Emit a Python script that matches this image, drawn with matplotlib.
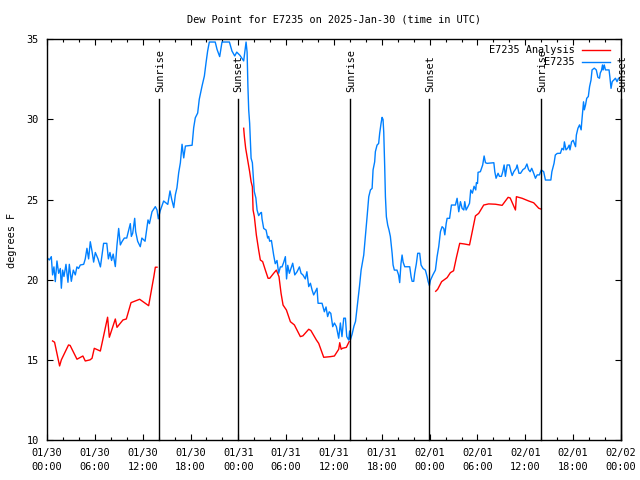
import numpy as np
import matplotlib
matplotlib.use("Agg")
import matplotlib.pyplot as plt

# ---- data (hours since 2025-01-30 00:00 UTC) ----
obs_hours = [0.0, 0.29, 0.54, 0.7, 0.87, 1.04, 1.25, 1.46, 1.67, 1.8, 1.96, 2.13, 2.38, 2.63, 2.8, 3.05, 3.3, 3.55, 3.75, 3.96,
             4.18, 4.6, 4.8, 5.01, 5.22, 5.43, 5.64, 5.85, 6.06, 6.4, 6.7, 7.1, 7.5, 7.7, 7.9, 8.1, 8.3, 8.57, 8.78, 8.99,
             9.2, 9.4, 9.7, 10.0, 10.45, 10.58, 10.75, 11.0, 11.12, 11.37, 11.7, 11.9, 12.3, 12.67, 12.85, 13.17, 13.59, 13.8, 13.96, 14.2,
             14.63, 14.9, 15.15, 15.43, 15.65, 15.9, 16.1, 16.3, 16.52, 16.73, 16.94, 17.15, 17.36, 18.2, 18.4, 18.6, 18.9, 19.1, 19.45, 19.74,
             19.95, 20.15, 20.36, 21.1, 21.33, 21.66, 21.95, 22.88, 23.2, 23.55, 23.8, 24.2, 24.67, 24.97, 25.1, 25.2, 25.3, 25.42, 25.6, 25.76,
             25.85, 26.0, 26.2, 26.35, 26.55, 26.76, 26.9, 26.97, 27.18, 27.48, 27.68, 27.8, 27.93, 28.15, 28.43, 28.63, 28.85, 29.06, 29.27, 29.48,
             29.7, 29.9, 30.05, 30.2, 30.4, 30.67, 30.82, 31.08, 31.37, 31.66, 31.87, 32.1, 32.4, 32.6, 32.83, 33.04, 33.25, 33.45, 33.67, 33.87,
             34.0, 34.5, 34.79, 35.0, 35.2, 35.4, 35.6, 35.84, 36.05, 36.3, 36.59, 36.8, 37.0, 37.22, 37.43, 37.6, 37.84, 37.96, 38.05, 38.27,
             38.5, 38.7, 38.97, 39.2, 39.4, 39.57, 39.73, 39.94, 40.15, 40.36, 40.57, 40.78, 40.9, 41.1, 41.19, 41.4, 41.6, 41.73, 41.9, 42.03,
             42.15, 42.24, 42.36, 42.45, 42.57, 42.74, 42.9, 43.07, 43.29, 43.41, 43.57, 43.9, 44.1, 44.24, 44.4, 44.54, 44.67, 44.87, 45.5, 45.67,
             45.8, 46.0, 46.12, 46.33, 46.5, 46.75, 46.92, 47.17, 47.46, 47.68, 47.8, 47.97, 48.1, 48.4, 48.72, 48.93, 49.14, 49.35, 49.56, 49.77,
             49.9, 50.07, 50.19, 50.5, 50.73, 51.23, 51.44, 51.65, 51.86, 52.07, 52.28, 52.4, 52.57, 52.8, 53.0, 53.15, 53.36, 53.57, 53.78, 53.86,
             54.0, 54.07, 54.36, 54.65, 54.83, 55.0, 55.2, 56.05, 56.17, 56.33, 56.58, 56.75, 57.0, 57.17, 57.34, 57.5, 57.72, 58.0, 58.2, 58.35,
             58.55, 58.85, 58.97, 59.2, 59.4, 59.7, 59.95, 60.2, 60.4, 60.6, 60.8, 61.05, 61.27, 61.48, 61.77, 62.0, 62.3, 62.52, 63.2, 63.33,
             63.6, 63.76, 64.0, 64.4, 64.6, 64.8, 64.9, 65.1, 65.3, 65.5, 65.6, 65.8, 66.0, 66.3, 66.4, 66.6, 66.8, 67.0, 67.08, 67.3,
             67.4, 67.55, 67.7, 67.9, 68.06, 68.24, 68.37, 68.65, 68.9, 69.1, 69.3, 69.4, 69.55, 69.68, 69.76, 69.9, 70.05, 70.5, 70.6, 70.7,
             70.75, 70.9, 71.1, 71.3, 71.5, 71.7]
obs_values = [21.38, 21.23, 21.44, 20.3, 20.8, 19.88, 21.17, 20.4, 20.7, 19.47, 20.6, 20.2, 20.96, 19.84, 20.96, 19.9, 20.6, 20.3, 20.8, 20.7,
              20.92, 20.96, 21.3, 21.96, 21.3, 22.37, 21.8, 21.1, 21.7, 21.3, 20.8, 22.27, 22.27, 21.3, 21.7, 21.2, 21.6, 20.82, 22.17, 23.2,
              22.17, 22.37, 22.6, 22.6, 23.5, 22.7, 22.9, 23.83, 23.0, 22.4, 22.06, 22.6, 22.4, 23.73, 23.5, 24.24, 24.56, 24.35, 23.8, 24.3,
              24.91, 24.8, 24.7, 25.54, 25.0, 24.5, 25.3, 25.74, 26.68, 27.3, 28.45, 27.6, 28.34, 28.39, 29.49, 30.1, 30.4, 31.26, 32.09, 32.71,
              33.54, 34.27, 34.83, 34.83, 34.37, 33.92, 34.83, 34.83, 34.27, 33.96, 34.2, 34.0, 33.65, 34.83, 34.2, 32.09, 30.6, 29.76, 27.58, 27.3,
              26.64, 25.5, 25.1, 24.35, 24.0, 24.15, 24.2, 23.8, 23.2, 23.1, 22.6, 22.7, 22.4, 22.45, 21.54, 21.0, 21.2, 20.4, 20.8, 20.8,
              21.1, 21.44, 20.05, 20.9, 20.4, 20.8, 21.03, 20.3, 20.5, 20.8, 20.4, 20.3, 20.05, 20.5, 19.57, 19.78, 19.36, 19.05, 19.26, 19.47,
              18.53, 18.53, 18.0, 18.3, 17.7, 18.0, 17.9, 17.07, 17.3, 17.07, 16.35, 17.3, 16.45, 17.6, 17.6, 16.45, 16.24, 16.8, 16.24, 16.6,
              17.1, 17.4, 18.6, 19.6, 20.6, 21.1, 21.54, 22.7, 23.93, 25.18, 25.6, 25.7, 26.85, 27.35, 27.99, 28.4, 28.5, 29.14, 29.75, 30.13,
              30.0, 29.2, 27.05, 25.18, 23.93, 23.4, 23.1, 22.7, 21.65, 20.92, 20.6, 20.6, 20.3, 19.82, 21.0, 21.54, 21.1, 20.81, 20.81, 20.19,
              19.9, 19.9, 20.4, 21.0, 21.65, 21.65, 20.92, 20.7, 20.6, 20.19, 19.9, 19.63, 19.97, 20.3, 20.6, 21.44, 22.07, 23.0, 23.31, 23.2,
              22.8, 23.5, 23.83, 23.83, 24.66, 24.66, 25.08, 24.24, 24.87, 24.45, 24.35, 24.87, 24.35, 24.56, 24.77, 25.6, 25.4, 25.83, 25.6, 26.06,
              26.0, 26.7, 26.74, 27.16, 27.72, 27.3, 27.26, 27.3, 26.74, 26.33, 26.64, 26.45, 26.45, 26.74, 27.16, 26.45, 27.16, 27.16, 26.74, 26.5,
              26.74, 26.95, 27.16, 26.64, 26.64, 26.87, 26.95, 27.22, 26.87, 26.74, 26.95, 26.64, 26.33, 26.54, 26.54, 26.85, 26.74, 26.22, 26.22, 26.74,
              27.26, 27.78, 27.88, 27.89, 28.2, 28.1, 28.6, 28.1, 28.2, 28.4, 28.1, 28.6, 28.7, 28.3, 29.03, 29.45, 29.66, 29.35, 29.86, 31.1,
              30.6, 30.9, 31.32, 31.43, 32.05, 32.46, 33.09, 33.2, 33.09, 32.63, 32.57, 32.9, 33.05, 33.4, 33.09, 33.4, 33.09, 33.09, 32.67, 32.15,
              31.94, 32.36, 32.46, 32.57, 32.36, 32.57]

ana_hours = [0.7, 0.95, 1.58, 1.8, 2.7, 2.9, 3.76, 4.5, 4.8, 5.4, 5.65, 5.93, 6.69, 6.9, 7.6, 7.82, 8.57, 8.78, 9.53, 9.95,
             10.54, 11.62, 12.75, 13.4, 13.59, 13.8,
             18.0,
             24.67, 24.76, 24.92, 25.17, 25.42, 25.6, 25.76, 25.85, 26.01, 26.26, 26.55, 26.76, 27.05, 27.39, 27.73, 27.94, 28.43, 28.77, 29.1,
             29.36, 29.61, 30.03, 30.53, 31.03, 31.78, 32.1, 32.83, 33.1, 33.79, 34.08, 34.71, 35.55, 36.05, 36.59, 36.72, 36.9, 37.05, 37.55, 37.9,
             43.0,
             48.76, 49.0, 49.5, 50.19, 50.6, 51.0, 51.36, 51.77, 52.35, 53.0, 53.3, 53.74, 54.15, 54.78, 55.4, 56.25, 57.09, 57.84, 58.1, 58.76,
             58.88, 59.6, 60.43, 61.05, 61.68, 62.0]
ana_values = [16.18, 16.1, 14.62, 15.0, 15.93, 15.9, 15.04, 15.24, 14.93, 15.0, 15.1, 15.72, 15.55, 16.03, 17.66, 16.41, 17.55, 17.03, 17.49, 17.55,
              18.57, 18.78, 18.38, 20.19, 20.78, 20.78,
              np.nan,
              29.45, 28.92, 28.2, 27.47, 26.74, 26.12, 25.8, 24.35, 23.93, 22.79, 21.85, 21.23, 21.13, 20.6, 20.09, 20.09, 20.4, 20.6, 20.19,
              19.15, 18.42, 18.11, 17.38, 17.18, 16.45, 16.5, 16.91, 16.83, 16.24, 16.03, 15.16, 15.2, 15.24, 15.66, 16.07, 15.66, 15.72, 15.78, 16.14,
              np.nan,
              19.28, 19.4, 19.88, 20.13, 20.44, 20.56, 21.4, 22.27, 22.23, 22.17, 22.9, 23.98, 24.14, 24.66, 24.73, 24.71, 24.64, 25.14, 25.1, 24.35,
              25.18, 25.08, 24.91, 24.8, 24.46, 24.4]

sun_hours = [14.0, 23.9, 37.98, 47.92, 62.0, 71.95]
sun_labels = ["Sunrise", "Sunset", "Sunrise", "Sunset", "Sunrise", "Sunset"]

xtick_hours = [0, 6, 12, 18, 24, 30, 36, 42, 48, 54, 60, 66, 72]
xtick_labels = ["01/30\n00:00", "01/30\n06:00", "01/30\n12:00", "01/30\n18:00",
                "01/31\n00:00", "01/31\n06:00", "01/31\n12:00", "01/31\n18:00",
                "02/01\n00:00", "02/01\n06:00", "02/01\n12:00", "02/01\n18:00",
                "02/02\n00:00"]
ytick_values = [10, 15, 20, 25, 30, 35]

title = "Dew Point for E7235 on 2025-Jan-30 (time in UTC)"
ylabel = "degrees F"
legend_labels = ["E7235 Analysis", "E7235"]

RED = "#ff0000"
BLUE = "#0080ff"
FS = 7.4
plt.rcParams['font.family'] = ['DejaVu Sans Mono']

fig = plt.figure(figsize=(6.4, 4.8), dpi=100)
ax = fig.add_axes([47/640, 40/480, 574/640, 400.7/480])

ax.plot(ana_hours, ana_values, color=RED, lw=1.0)
ax.plot(obs_hours, obs_values, color=BLUE, lw=1.0)

for h, lab in zip(sun_hours, sun_labels):
    ax.plot([h, h], [10, 31.27], color="black", lw=1.0, clip_on=False)
    ax.text(h + 0.15, 31.72, lab, rotation=90, ha="center", va="bottom", fontsize=FS, clip_on=False)

ax.set_xlim(0, 72)
ax.set_ylim(10, 35)
ax.set_xticks(xtick_hours)
ax.set_xticklabels(xtick_labels, fontsize=FS, linespacing=1.45)
ax.set_xticks(np.arange(0, 73, 2), minor=True)
ax.set_yticks(ytick_values)
ax.set_yticklabels([str(v) for v in ytick_values], fontsize=FS)
ax.tick_params(axis="both", which="major", direction="in", length=4.5, width=0.8,
               top=True, right=True, pad=6)
ax.tick_params(axis="x", which="minor", direction="in", length=2.5, width=0.8, top=True)
for s in ax.spines.values():
    s.set_linewidth(1.0)

# legend (manual, gnuplot style: text right-aligned, sample to the right)
leg_y = [0.9733, 0.9426]
for lab, col, y in zip(legend_labels, [RED, BLUE], leg_y):
    ax.text(0.9199, y, lab, transform=ax.transAxes, ha="right", va="center", fontsize=FS)
    ax.plot([0.932, 0.981], [y, y], transform=ax.transAxes, color=col, lw=1.0)

fig.text(334/640, 1 - 19/480, title, ha="center", va="center", fontsize=FS)
fig.text(12/640, 0.5, ylabel, rotation=90, ha="center", va="center", fontsize=FS)

fig.savefig("out.png", dpi=100)
